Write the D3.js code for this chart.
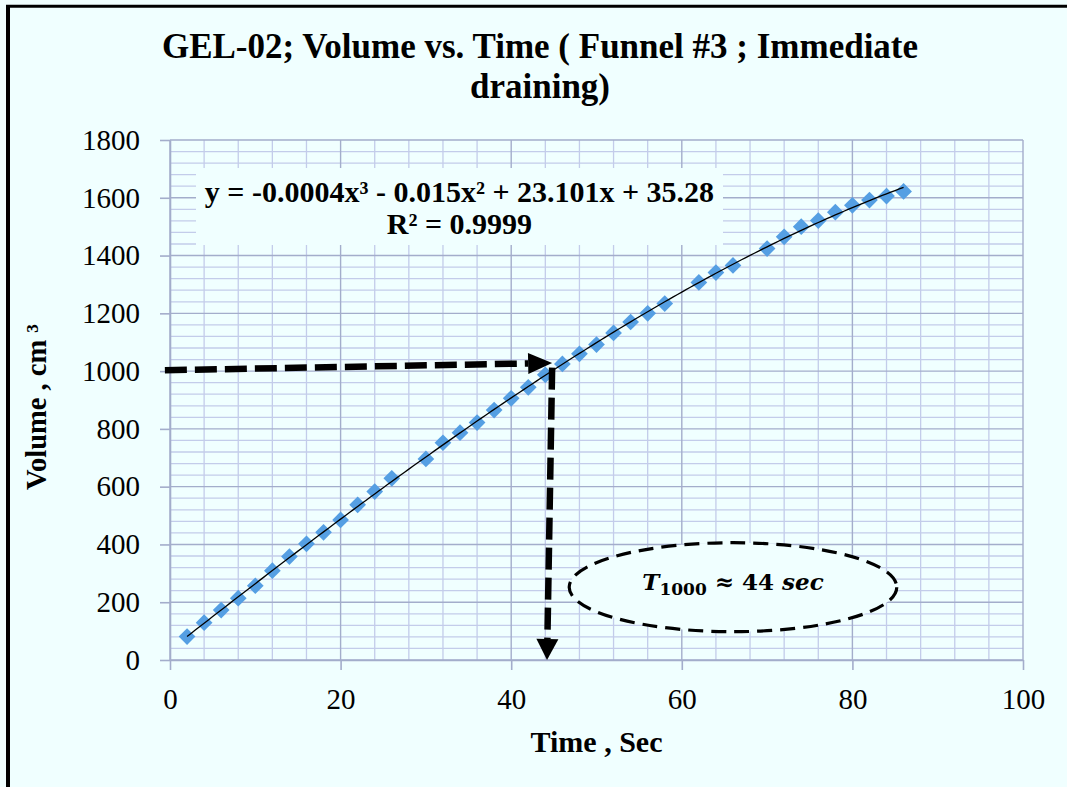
<!DOCTYPE html>
<html>
<head>
<meta charset="utf-8">
<script src="https://cdn.jsdelivr.net/npm/d3@7"></script>
<style>
  html, body { margin: 0; padding: 0; background: #F0FFFF; }
  svg { display: block; font-family: "Liberation Serif", "Times New Roman", serif; }
</style>
</head>
<body>
<svg id="chart" width="1067" height="787"></svg>
<script>
// Drained volume (cm³) against elapsed time (s)
const times = [2, 4, 6, 8, 10, 12, 14, 16, 18, 20, 22, 24, 26,
               30, 32, 34, 36, 38, 40, 42, 44, 46, 48, 50, 52, 54, 56, 58,
               62, 64, 66, 70, 72, 74, 76, 78, 80, 82, 84, 86];
const volumes = [81, 129, 173, 214, 257, 309, 358, 402, 442, 485, 537, 583, 629,
                 696, 752, 787, 822, 865, 906, 944, 987, 1025, 1060, 1092, 1132, 1170, 1200, 1234,
                 1307, 1341, 1366, 1424, 1465, 1500, 1521, 1550, 1574, 1592, 1606, 1622];

const xTicks = [0, 20, 40, 60, 80, 100];
const yTicks = [0, 200, 400, 600, 800, 1000, 1200, 1400, 1600, 1800];

const titleLines = ["GEL-02; Volume vs. Time ( Funnel #3 ; Immediate", "draining)"];
const equationLines = ["y = -0.0004x³ - 0.015x² + 23.101x + 35.28", "R² = 0.9999"];

// Reading of the 1000 cm³ level: [time, volume] pairs
const readAcross = [[-0.6, 1003], [44.8, 1028]];
const readDown = [[44.8, 1012], [44.2, 0]];
const calloutCenter = [66.0, 252];
const calloutRadius = [19.2, 154];   // in time / volume units

const W = 1067, H = 787;
const margin = { top: 140, right: 44, bottom: 127, left: 170 };
const svg = d3.select("#chart");

// background and frame
svg.append("rect").attr("width", W).attr("height", H).attr("fill", "#F0FFFF");
svg.append("line").attr("x1", 8).attr("x2", 8).attr("y1", 5).attr("y2", H)
  .attr("stroke", "#000").attr("stroke-width", 4);
svg.append("line").attr("x1", 6).attr("x2", W).attr("y1", 6.3).attr("y2", 6.3)
  .attr("stroke", "#000").attr("stroke-width", 3);

const x = d3.scaleLinear().domain([0, 100]).range([margin.left, W - margin.right]);
const y = d3.scaleLinear().domain([0, 1800]).range([H - margin.bottom, margin.top]);

// grid: minor every 4 s / 40 cm³, major at the tick values
const grid = svg.append("g");
const minorX = d3.range(0, 100.001, 4).filter(v => v % 20 !== 0);
const minorY = d3.range(0, 1800.001, 40).filter(v => v % 200 !== 0);
grid.selectAll(".mx").data(minorX).join("line")
  .attr("x1", d => x(d)).attr("x2", d => x(d)).attr("y1", y(0)).attr("y2", y(1800))
  .attr("stroke", "#C3CCEA").attr("stroke-width", 1.3);
grid.selectAll(".my").data(minorY).join("line")
  .attr("x1", x(0)).attr("x2", x(100)).attr("y1", d => y(d)).attr("y2", d => y(d))
  .attr("stroke", "#C3CCEA").attr("stroke-width", 1.3);
grid.selectAll(".Mx").data(xTicks).join("line")
  .attr("x1", d => x(d)).attr("x2", d => x(d)).attr("y1", y(0)).attr("y2", y(1800))
  .attr("stroke", "#A3ADCB").attr("stroke-width", 1.4);
grid.selectAll(".My").data(yTicks).join("line")
  .attr("x1", x(0)).attr("x2", x(100)).attr("y1", d => y(d)).attr("y2", d => y(d))
  .attr("stroke", "#A3ADCB").attr("stroke-width", 1.4);

// axes
const xAxis = svg.append("g").attr("transform", `translate(0,${y(0)})`)
  .call(d3.axisBottom(x).tickValues(xTicks).tickFormat(d3.format("d"))
    .tickSize(10).tickPadding(18).tickSizeOuter(0));
const yAxis = svg.append("g").attr("transform", `translate(${x(0)},0)`)
  .call(d3.axisLeft(y).tickValues(yTicks).tickFormat(d3.format("d"))
    .tickSize(10).tickPadding(20).tickSizeOuter(0));
[xAxis, yAxis].forEach(g => {
  g.select(".domain").attr("stroke", "#A3ADCB").attr("stroke-width", 1.6);
  g.selectAll(".tick line").attr("stroke", "#A3ADCB").attr("stroke-width", 1.6);
  g.selectAll(".tick text").attr("fill", "#000")
    .style("font-family", '"Liberation Serif", serif').style("font-size", "29px");
});

// cubic least-squares trend of the measured points
function polyfit(xs, ys, deg) {
  const n = deg + 1;
  const A = Array.from({ length: n }, () => new Array(n).fill(0));
  const b = new Array(n).fill(0);
  xs.forEach((xv, k) => {
    for (let i = 0; i < n; i++) {
      b[i] += ys[k] * Math.pow(xv, i);
      for (let j = 0; j < n; j++) A[i][j] += Math.pow(xv, i + j);
    }
  });
  for (let c = 0; c < n; c++) {
    let p = c;
    for (let r = c + 1; r < n; r++) if (Math.abs(A[r][c]) > Math.abs(A[p][c])) p = r;
    [A[c], A[p]] = [A[p], A[c]]; [b[c], b[p]] = [b[p], b[c]];
    for (let r = c + 1; r < n; r++) {
      const f = A[r][c] / A[c][c];
      for (let j = c; j < n; j++) A[r][j] -= f * A[c][j];
      b[r] -= f * b[c];
    }
  }
  const coef = new Array(n).fill(0);
  for (let i = n - 1; i >= 0; i--) {
    let s = b[i];
    for (let j = i + 1; j < n; j++) s -= A[i][j] * coef[j];
    coef[i] = s / A[i][i];
  }
  return coef;
}
const coef = polyfit(times, volumes, 3);
const trend = t => coef.reduce((s, c, i) => s + c * Math.pow(t, i), 0);
const tMin = d3.min(times), tMax = d3.max(times);
const trendPts = d3.range(tMin, tMax + 0.001, 0.5).map(t => [t, trend(t)]);

// markers
svg.append("g").selectAll("path").data(times).join("path")
  .attr("d", d3.symbol(d3.symbolSquare, 140))
  .attr("transform", (d, i) => `translate(${x(d)},${y(volumes[i])}) rotate(45)`)
  .attr("fill", "#559FE3");

// trendline
svg.append("path").datum(trendPts)
  .attr("d", d3.line().x(d => x(d[0])).y(d => y(d[1])))
  .attr("fill", "none").attr("stroke", "#000").attr("stroke-width", 1.3);

// equation label box
const eqBox = svg.append("g");
eqBox.append("rect")
  .attr("x", 196).attr("y", 168).attr("width", 527).attr("height", 77)
  .attr("fill", "#F0FFFF");
eqBox.selectAll("text").data(equationLines).join("text")
  .attr("x", 459.5).attr("y", (d, i) => 202 + i * 32)
  .attr("text-anchor", "middle")
  .style("font-size", "30px").style("font-weight", "bold")
  .text(d => d);

// dashed reading arrows
function dashedArrow(pts, headLen, headHalf) {
  const [p0, p1] = pts.map(p => [x(p[0]), y(p[1])]);
  const dx = p1[0] - p0[0], dy = p1[1] - p0[1];
  const L = Math.hypot(dx, dy), ux = dx / L, uy = dy / L;
  const base = [p1[0] - ux * headLen, p1[1] - uy * headLen];
  const g = svg.append("g");
  g.append("line")
    .attr("x1", p0[0]).attr("y1", p0[1]).attr("x2", base[0]).attr("y2", base[1])
    .attr("stroke", "#000").attr("stroke-width", 6.5).attr("stroke-dasharray", "22 8");
  g.append("path")
    .attr("d", d3.line()([
      p1,
      [base[0] - uy * headHalf, base[1] + ux * headHalf],
      [base[0] + uy * headHalf, base[1] - ux * headHalf]
    ]) + "Z")
    .attr("fill", "#000");
}
dashedArrow(readAcross, 24, 10.5);
dashedArrow(readDown, 21, 11);

// callout ellipse
const callout = svg.append("g");
callout.append("ellipse")
  .attr("cx", x(calloutCenter[0])).attr("cy", y(calloutCenter[1]))
  .attr("rx", x(calloutRadius[0]) - x(0)).attr("ry", y(0) - y(calloutRadius[1]))
  .attr("fill", "#F0FFFF").attr("stroke", "#000").attr("stroke-width", 3.2)
  .attr("stroke-dasharray", "15 8");
const ct = callout.append("text")
  .attr("x", x(calloutCenter[0])).attr("y", y(calloutCenter[1]) + 3)
  .attr("text-anchor", "middle")
  .style("font-family", '"DejaVu Serif", serif')
  .style("font-size", "23px").style("font-weight", "bold");
ct.append("tspan").style("font-style", "italic").text("T");
ct.append("tspan").attr("dy", 5).style("font-size", "17px").text("1000");
ct.append("tspan").attr("dy", -5).text(" ≈ 44 ");
ct.append("tspan").style("font-style", "italic").text("sec");

// titles
svg.append("g").selectAll("text").data(titleLines).join("text")
  .attr("x", 540).attr("y", (d, i) => 58 + i * 40)
  .attr("text-anchor", "middle")
  .style("font-size", "35px").style("font-weight", "bold")
  .text(d => d);

svg.append("text")
  .attr("x", (x(0) + x(100)) / 2).attr("y", 752)
  .attr("text-anchor", "middle")
  .style("font-size", "30px").style("font-weight", "bold")
  .text("Time , Sec");

svg.append("text")
  .attr("transform", `translate(46,${(y(0) + y(1800)) / 2 + 7}) rotate(-90)`)
  .attr("text-anchor", "middle")
  .style("font-size", "28.5px").style("font-weight", "bold")
  .text("Volume , cm ³");
</script>
</body>
</html>
